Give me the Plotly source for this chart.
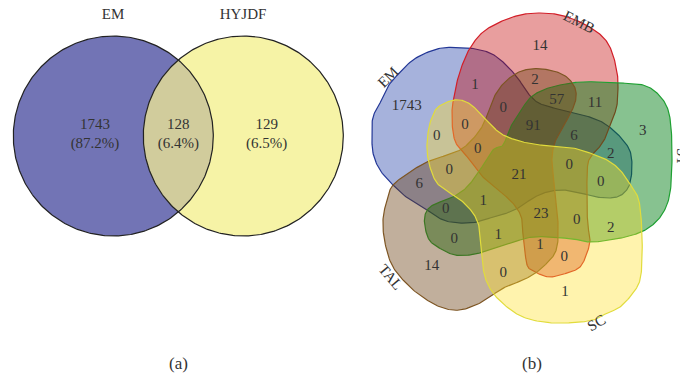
import numpy as np
import plotly.graph_objects as go

# ---------------- data ----------------
# panel (a): two-set Venn
sets_a = ["EM", "HYJDF"]
counts_a = [1743, 128, 129]            # EM only, EM & HYJDF, HYJDF only
percent_a = ["87.2%", "6.4%", "6.5%"]

# panel (b): five-set Venn
sets_b = ["EM", "EMB", "ST", "TAL", "SC"]
region_counts_b = [14, 1743, 1, 2, 57, 11, 0, 0, 91, 3, 0, 6, 0, 2, 0, 0, 21, 0,
                   6, 1, 0, 23, 0, 2, 1, 0, 1, 0, 14, 0, 1]
panel_labels = ["(a)", "(b)"]

# ---------------- geometry (layout, pixel space) ----------------
circle_a_centers = [(113.3, 136.0), (243.3, 136.0)]
circle_a_radius = 100.0
label_a_pos = [(113.0, 15.0), (243.0, 15.0)]
count_a_pos = [(95.0, 134.5), (178.3, 134.5), (266.7, 134.5)]

outline_EM = [(380,103),(386,90),(393,80),(413,60),(437,49),(457,47.5),(473,48.5),(490,53),(503,62),
              (517,77),(527,92),(537,102),(550,107),(567,111),(583,115),(600,121),(612,129),(622,139),
              (630,151),(632,167),(630,183),(625,192),(617,197),(607,198),(597,197),(580,193),(563,190),
              (547,192),(533,198),(520,207),(507,213),(490,218),(477,222),(460,223),(443,220),(427,210),
              (410,200),(393,185),(380,170),(373,153),(372,133),(373,117)]
outline_EMB = [(453,102),(458,78),(465,58),(472,45),(483,32),(500,22),(520,15),(540,13),(560,15),(580,22),
               (597,32),(607,42),(613,55),(617,72),(618,85),(617,105),(613,118),(608,132),(603,142),(597,150),
               (592,155),(588,163),(587,180),(587,207),(588,227),(590,240),(587,253),(580,267),(567,273),
               (550,277),(537,273),(528,267),(525,253),(523,237),(522,220),(518,210),(510,200),(498,190),
               (483,177),(470,160),(457,145),(453,132),(452,115)]
outline_ST = [(503,145),(510,128),(520,112),(530,98),(543,90),(560,85),(580,82),(600,82),(620,83),(643,85),
              (657,93),(667,107),(671,127),(672,160),(670,193),(663,213),(650,227),(633,235),(610,240),
              (590,242),(573,239),(550,237),(533,237),(520,240),(500,247),(483,252),(470,255),(455,255),
              (443,250),(430,241),(425,227),(425,215),(430,207),(440,202),(453,197),(467,187),(480,170),(493,150)]
outline_TAL = [(393,185),(410,172),(427,162),(447,155),(460,150),(470,142),(480,130),(486,118),(493,99),
               (503,84),(517,73),(530,69),(543,69),(557,72),(568,78),(575,88),(576,98),(573,108),(568,118),
               (562,128),(555,142),(552,157),(553,173),(555,190),(557,207),(558,223),(558,240),(555,253),
               (547,263),(537,272),(523,280),(510,285),(500,290),(480,303),(460,310),(443,308),(427,300),
               (410,287),(393,267),(385,243),(383,220),(387,200)]
outline_SC = [(431,120),(437,108),(450,101),(460,100),(470,104),(480,113),(490,124),(500,133),(510,138),
              (523,142),(540,145),(557,146),(573,148),(590,153),(607,160),(620,170),(630,184),(637,195),
              (640,207),(642,233),(642,260),(640,280),(633,293),(620,307),(607,313),(593,320),(567,323),
              (543,322),(523,317),(507,307),(493,293),(485,277),(482,257),(480,233),(478,223),(473,213),
              (463,202),(450,193),(437,183),(430,167),(427,150),(428,133)]
outlines_b = [outline_EM, outline_EMB, outline_ST, outline_TAL, outline_SC]
fills_b = ["rgba(0,35,155,0.35)", "rgba(195,0,0,0.38)", "rgba(0,125,20,0.47)",
           "rgba(105,60,15,0.41)", "rgba(255,224,40,0.38)"]
lines_b = ["rgb(35,55,150)", "rgb(210,30,40)", "rgb(30,160,50)", "rgb(125,85,35)", "rgb(225,220,60)"]

region_pos_b = [(540,46.7),(406.7,106.7),(475,85),(535,80),(556.7,100),(595,103.3),(503.3,108.3),
                (465,125),(533.3,126),(642.7,131),(436.7,136.7),(574,136),(477.7,149.3),(610.7,154),
                (569.3,165),(449.3,170),(519,175),(600.7,182.7),(419.3,184),(483.3,201.7),(445.7,209.3),
                (541,214),(576.7,220.7),(610.7,228),(498.3,235),(454.3,239.3),(540,245.7),(564.3,257.7),
                (431.7,266.7),(503.3,273.3),(565,292.7)]
set_label_pos_b = [(388.3, 77.3, -45), (579.3, 21.7, 27), (679.0, 157.0, 90), (390.7, 276.7, 50), (596.0, 322.5, -30)]
panel_label_pos = [(178, 363), (532, 363)]

FONT = "Liberation Serif"
TXT = "#333333"


def smooth_closed(pts, n=14):
    P = np.asarray(pts, float)
    m = len(P)
    out = []
    for i in range(m):
        p0, p1, p2, p3 = P[(i - 1) % m], P[i], P[(i + 1) % m], P[(i + 2) % m]
        for t in np.linspace(0, 1, n, endpoint=False):
            t2, t3 = t * t, t * t * t
            out.append(0.5 * ((2 * p1) + (-p0 + p2) * t + (2 * p0 - 5 * p1 + 4 * p2 - p3) * t2
                              + (-p0 + 3 * p1 - 3 * p2 + p3) * t3))
    out.append(out[0])
    return np.array(out)


fig = go.Figure()

# ---- panel (a) ----
th = np.linspace(0, 2 * np.pi, 361)
fills_a = ["#7274b5", "#f6f3a6"]
for (cx, cy), fc in zip(circle_a_centers, fills_a):
    fig.add_trace(go.Scatter(x=cx + circle_a_radius * np.cos(th), y=cy + circle_a_radius * np.sin(th),
                             mode="lines", fill="toself", fillcolor=fc, line=dict(width=0),
                             hoverinfo="skip", showlegend=False))
# lens
(c1x, c1y), (c2x, c2y) = circle_a_centers
d = c2x - c1x
a = d / 2
h = np.sqrt(circle_a_radius ** 2 - a ** 2)
ang = np.arctan2(h, a)
t1 = np.linspace(-ang, ang, 100)
t2 = np.linspace(np.pi - ang, np.pi + ang, 100)
lx = np.concatenate([c1x + circle_a_radius * np.cos(t1), c2x + circle_a_radius * np.cos(t2)])
ly = np.concatenate([c1y + circle_a_radius * np.sin(t1), c2y + circle_a_radius * np.sin(t2)])
fig.add_trace(go.Scatter(x=lx, y=ly, mode="lines", fill="toself", fillcolor="#d1cc9c",
                         line=dict(width=0), hoverinfo="skip", showlegend=False))
for (cx, cy) in circle_a_centers:
    fig.add_trace(go.Scatter(x=cx + circle_a_radius * np.cos(th), y=cy + circle_a_radius * np.sin(th),
                             mode="lines", line=dict(color="#222222", width=1.2),
                             hoverinfo="skip", showlegend=False))
fig.add_trace(go.Scatter(x=[p[0] for p in label_a_pos], y=[p[1] for p in label_a_pos], mode="text",
                         text=sets_a, textfont=dict(family=FONT, size=15, color=TXT),
                         hoverinfo="skip", showlegend=False))
fig.add_trace(go.Scatter(x=[p[0] for p in count_a_pos], y=[p[1] for p in count_a_pos], mode="text",
                         text=[f"{c}<br>({p})" for c, p in zip(counts_a, percent_a)],
                         textfont=dict(family=FONT, size=15, color=TXT),
                         hoverinfo="skip", showlegend=False))

# ---- panel (b) ----
for pts, fc, lc in zip(outlines_b, fills_b, lines_b):
    s = smooth_closed(pts)
    fig.add_trace(go.Scatter(x=s[:, 0], y=s[:, 1], mode="lines", fill="toself", fillcolor=fc,
                             line=dict(color=lc, width=1.2), hoverinfo="skip", showlegend=False))
fig.add_trace(go.Scatter(x=[p[0] for p in region_pos_b], y=[p[1] for p in region_pos_b], mode="text",
                         text=[str(v) for v in region_counts_b],
                         textfont=dict(family=FONT, size=15, color=TXT),
                         hoverinfo="skip", showlegend=False))

annotations = []
for name, (x, y, angle) in zip(sets_b, set_label_pos_b):
    ann = dict(x=x, y=y, xref="x", yref="y", text=name, showarrow=False, textangle=angle,
               font=dict(family=FONT, size=15, color=TXT), xanchor="center", yanchor="middle")
    if name == "ST":
        ann["xshift"] = 3
    annotations.append(ann)
for lab, (x, y) in zip(panel_labels, panel_label_pos):
    annotations.append(dict(x=x, y=y, xref="x", yref="y", text=lab, showarrow=False,
                            font=dict(family=FONT, size=17, color=TXT)))

fig.update_layout(
    width=680, height=379, margin=dict(l=0, r=0, t=0, b=0),
    paper_bgcolor="white", plot_bgcolor="white",
    xaxis=dict(range=[0, 680], visible=False, showgrid=False, zeroline=False, fixedrange=True),
    yaxis=dict(range=[379, 0], visible=False, showgrid=False, zeroline=False, fixedrange=True),
    annotations=annotations, showlegend=False, hovermode=False,
)
fig.write_html("out.html", config={"displayModeBar": False, "staticPlot": True},
               post_script="document.body.style.margin='0px';")
